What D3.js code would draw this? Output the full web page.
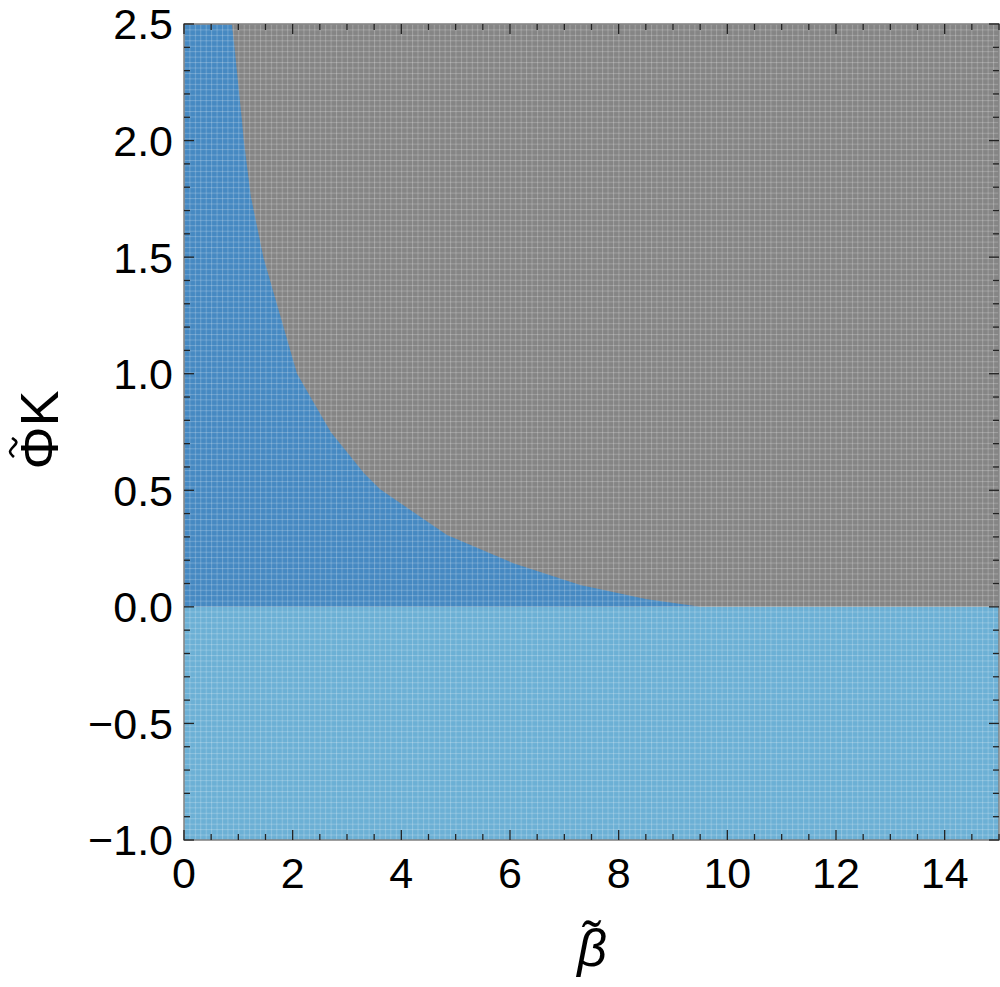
<!DOCTYPE html>
<html><head><meta charset="utf-8">
<script src="https://cdn.jsdelivr.net/npm/d3@7"></script>
<style>body{margin:0;background:#fff}svg{display:block}text{font-family:"Liberation Sans",Arial,sans-serif}</style>
</head><body>
<svg id="c" width="1000" height="987"></svg>
<script>
// boundary of the stable (blue) region: [beta, PhiK]
const boundaryBeta = [0.88, 0.92, 1.06, 1.10, 1.23, 1.46, 2.08, 2.70, 3.31, 3.61, 4.84, 6.06, 7.29, 8.52, 9.28, 9.5];
const boundaryPhiK = [2.5, 2.42, 2.10, 2.0, 1.76, 1.5, 1.0, 0.75, 0.574, 0.504, 0.308, 0.187, 0.094, 0.033, 0.008, 0.0];
const xDomain = [0, 15];
const yDomain = [-1, 2.5];
const xTicks = [0, 2, 4, 6, 8, 10, 12, 14];
const yTicks = [-1.0, -0.5, 0.0, 0.5, 1.0, 1.5, 2.0, 2.5];

const m = {l: 184, r: 999, t: 24, b: 840};
const x = d3.scaleLinear().domain(xDomain).range([m.l, m.r]);
const y = d3.scaleLinear().domain(yDomain).range([m.b, m.t]);
const svg = d3.select("#c");

const defs = svg.append("defs");
defs.append("clipPath").attr("id", "clip").append("rect")
  .attr("x", m.l).attr("y", m.t).attr("width", m.r - m.l).attr("height", m.b - m.t);
const pat = defs.append("pattern").attr("id", "mesh").attr("patternUnits", "userSpaceOnUse")
  .attr("width", 5.43).attr("height", 5.44).attr("x", m.l).attr("y", m.t);
pat.append("rect").attr("x", 0).attr("y", 0).attr("width", 1).attr("height", 5.44).attr("fill", "#fff").attr("fill-opacity", 0.22);
pat.append("rect").attr("x", 0).attr("y", 0).attr("width", 5.43).attr("height", 1).attr("fill", "#fff").attr("fill-opacity", 0.22);

const g = svg.append("g").attr("clip-path", "url(#clip)");
// unstable (gray) region: PhiK > 0
g.append("rect").attr("x", x(0)).attr("y", y(2.5)).attr("width", x(15) - x(0)).attr("height", y(0) - y(2.5)).attr("fill", "#858585");
// blue region under the boundary
const pts = boundaryBeta.map((b, i) => [b, boundaryPhiK[i]]);
const area = d3.area().x(d => x(d[0])).y0(y(0)).y1(d => y(d[1]));
g.append("path").datum([[0, 2.5]].concat(pts)).attr("d", area).attr("fill", "#4689c2");
// negative region
g.append("rect").attr("x", x(0)).attr("y", y(0)).attr("width", x(15) - x(0)).attr("height", y(-1) - y(0)).attr("fill", "#6cb0d5");
// mesh texture
g.append("rect").attr("x", m.l).attr("y", m.t).attr("width", m.r - m.l).attr("height", m.b - m.t).attr("fill", "url(#mesh)");

// frame
svg.append("rect").attr("x", m.l).attr("y", m.t).attr("width", m.r - m.l).attr("height", m.b - m.t)
  .attr("fill", "none").attr("stroke", "#808080").attr("stroke-width", 1.5);

// ticks (inside, all four sides)
const tk = svg.append("g").attr("stroke", "#222").attr("stroke-width", 1.3);
const xMinor = d3.range(0, 15.001, 0.5);
const yMinor = d3.range(-1, 2.5001, 0.1);
xMinor.forEach(v => {
  const major = Math.abs(v / 2 - Math.round(v / 2)) < 1e-6;
  const L = major ? 10 : 6;
  tk.append("line").attr("x1", x(v)).attr("x2", x(v)).attr("y1", m.b).attr("y2", m.b - L);
  tk.append("line").attr("x1", x(v)).attr("x2", x(v)).attr("y1", m.t).attr("y2", m.t + L);
});
yMinor.forEach(v => {
  const major = Math.abs(v / 0.5 - Math.round(v / 0.5)) < 1e-6;
  const L = major ? 10 : 6;
  tk.append("line").attr("y1", y(v)).attr("y2", y(v)).attr("x1", m.l).attr("x2", m.l + L);
  tk.append("line").attr("y1", y(v)).attr("y2", y(v)).attr("x1", m.r).attr("x2", m.r - L);
});

// tick labels
const fmt = v => (v < 0 ? "\u2212" : "") + Math.abs(v).toFixed(1);
svg.append("g").selectAll("text").data(xTicks).join("text")
  .attr("x", d => x(d)).attr("y", 888).attr("text-anchor", "middle")
  .attr("font-size", 43).attr("fill", "#000").text(d => d);
svg.append("g").selectAll("text").data(yTicks).join("text")
  .attr("x", 173).attr("y", d => y(d)).attr("dy", "0.36em").attr("text-anchor", "end")
  .attr("font-size", 43).attr("fill", "#000").text(fmt);

// y axis label: Phi with tilde, then K
const yl = svg.append("g").attr("transform", "translate(58,430) rotate(-90)");
const ylt = yl.append("text").attr("text-anchor", "middle").attr("font-size", 54).text("\u03A6K");
const total = ylt.node().getComputedTextLength();
const phiW = ylt.node().getSubStringLength(0, 1);
const phiC = -total / 2 + phiW / 2;
yl.append("path")
  .attr("d", d3.line().curve(d3.curveBasis)([[phiC - 9, -44], [phiC - 4, -50], [phiC + 2, -44], [phiC + 6, -40], [phiC + 10, -46]]))
  .attr("fill", "none").attr("stroke", "#000").attr("stroke-width", 2.6);

// x axis label
svg.append("text").attr("x", 592).attr("y", 966).attr("text-anchor", "middle")
  .attr("font-size", 52).attr("font-style", "italic").text("\u03B2\u0303");
</script>
</body></html>
